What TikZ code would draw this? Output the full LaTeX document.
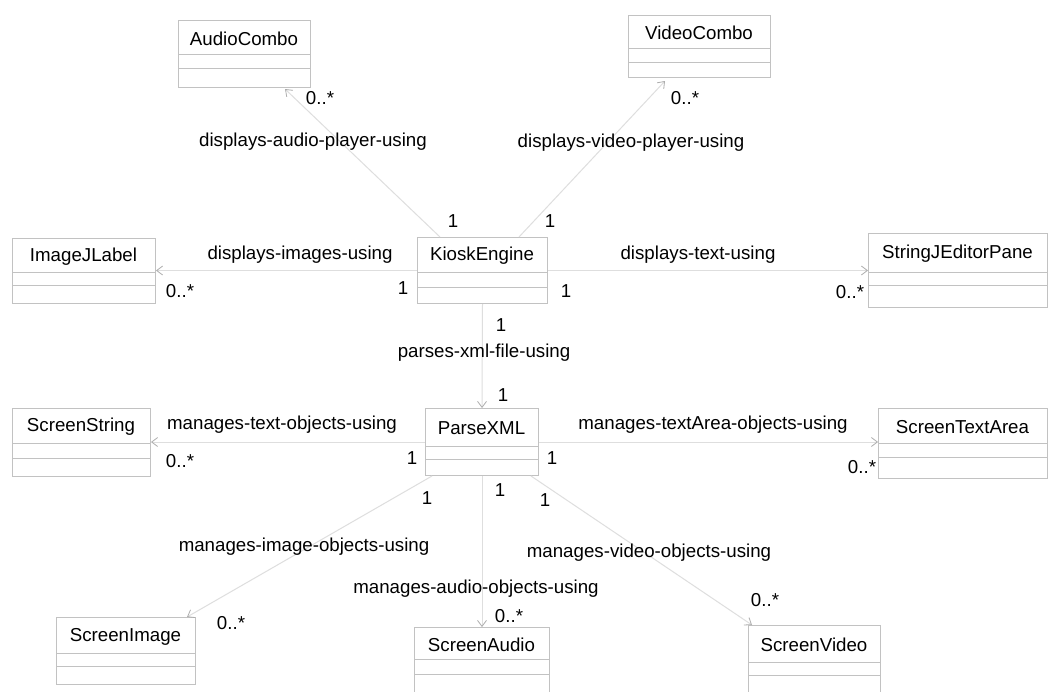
\documentclass[tikz,border=0pt]{standalone}
\usepackage{fontspec}
\setmainfont{Liberation Sans}
\usetikzlibrary{arrows.meta,calc}
\definecolor{boxc}{gray}{0.76}
\definecolor{linec}{gray}{0.87}
\definecolor{tipc}{gray}{0.68}
\tikzset{
  cls/.style={draw=boxc, line width=1pt, inner sep=0pt, anchor=north west},
  divider/.style={draw=boxc, line width=1pt},
  cname/.style={font=\fontsize{18.7}{22}\selectfont, inner sep=0pt},
  lbl/.style={font=\fontsize{18.7}{22}\selectfont, inner sep=0pt},
  assoc/.style={draw=linec, line width=1pt, -{Straight Barb[length=6pt,width=9pt,color=tipc,line width=0.8pt]}},
}
% #1 name, #2 x1, #3 y1, #4 x2, #5 y2, #6 divider1, #7 divider2, #8 text
\newcommand{\umlcls}[8]{%
  \node[cls, minimum width={#4-#2}, minimum height={#5-#3}] (#1) at (#2,#3) {};
  \draw[divider] (#2,#6) -- (#4,#6);
  \draw[divider] (#2,#7) -- (#4,#7);
  \node[cname] (#1-t) at ({(#2+#4)/2},{(#3+#6)/2+1.5}) {#8};
}
\begin{document}
\begin{tikzpicture}[x=1pt,y=-1pt]
\useasboundingbox (0,0) rectangle (1057,691);
\clip (0,0) rectangle (1057,691);
\fill[white] (0,0) rectangle (1057,691);

% classes
\umlcls{audio}{178}{20}{310}{87}{54}{68}{AudioCombo}
\umlcls{video}{628}{15}{770}{77}{48}{62}{VideoCombo}
\umlcls{kiosk}{417}{237}{547}{303}{272}{287}{KioskEngine}
\umlcls{imglabel}{12}{238}{155}{303}{272}{285}{ImageJLabel}
\umlcls{sjep}{868}{233}{1047}{307}{272}{285}{StringJEditorPane}
\umlcls{sstring}{12}{408}{150}{476}{443}{458}{ScreenString}
\umlcls{parse}{425}{408}{538}{475}{446}{459}{ParseXML}
\umlcls{sta}{878}{408}{1047}{478}{443}{457}{ScreenTextArea}
\umlcls{simage}{56}{617}{195}{684}{653}{666}{ScreenImage}
\umlcls{saudio}{414}{627}{549}{700}{659}{674}{ScreenAudio}
\umlcls{svideo}{748}{625}{880}{700}{662}{675}{ScreenVideo}

% connectors
\draw[assoc] ([xshift=23pt]kiosk.north west) -- ([xshift=107pt,yshift=-1pt]audio.south west);
\draw[assoc] ([xshift=-29pt]kiosk.north east) -- ([xshift=37pt,yshift=-3pt]video.south west);
\draw[assoc] (kiosk.west) -- (imglabel.east |- kiosk.west);
\draw[assoc] (kiosk.east) -- (sjep.west |- kiosk.east);
\draw[assoc] (kiosk.south) -- (parse.north);
\draw[assoc] (parse.west) -- (sstring.east |- parse.west);
\draw[assoc] (parse.east) -- (sta.west |- parse.east);
\draw[assoc] ([xshift=7pt]parse.south west) -- ([xshift=-9pt]simage.north east);
\draw[assoc] (parse.south) -- (saudio.north);
\draw[assoc] ([xshift=-8pt]parse.south east) -- ([xshift=4pt]svideo.north west);

% association names
\node[lbl] (l1) at (313,142) {displays-audio-player-using};
\node[lbl] (l2) at (631,143) {displays-video-player-using};
\node[lbl] (l3) at (300,255) {displays-images-using};
\node[lbl] (l4) at (698,255) {displays-text-using};
\node[lbl] (l5) at (484,353) {parses-xml-file-using};
\node[lbl] (l6) at (282,425) {manages-text-objects-using};
\node[lbl] (l7) at (713,425) {manages-textArea-objects-using};
\node[lbl] (l8) at (304,547) {manages-image-objects-using};
\node[lbl] (l9) at (649,553) {manages-video-objects-using};
\node[lbl] (l10) at (476,589) {manages-audio-objects-using};

% multiplicities
\node[lbl] (m1) at (320,98) {0..*};
\node[lbl] (m2) at (685,98) {0..*};
\node[lbl] (m3) at (453,221) {1};
\node[lbl] (m4) at (550,221) {1};
\node[lbl] (m5) at (403,288) {1};
\node[lbl] (m6) at (566,291) {1};
\node[lbl] (m7) at (180,291) {0..*};
\node[lbl] (m8) at (850,292) {0..*};
\node[lbl] (m9) at (501,325) {1};
\node[lbl] (m10) at (503,395) {1};
\node[lbl] (m11) at (180,461) {0..*};
\node[lbl] (m12) at (412,458) {1};
\node[lbl] (m13) at (552,458) {1};
\node[lbl] (m14) at (862,467) {0..*};
\node[lbl] (m15) at (427,498) {1};
\node[lbl] (m16) at (500,490) {1};
\node[lbl] (m17) at (545,500) {1};
\node[lbl] (m18) at (231,623) {0..*};
\node[lbl] (m19) at (509,616) {0..*};
\node[lbl] (m20) at (765,600) {0..*};
\end{tikzpicture}
\end{document}
